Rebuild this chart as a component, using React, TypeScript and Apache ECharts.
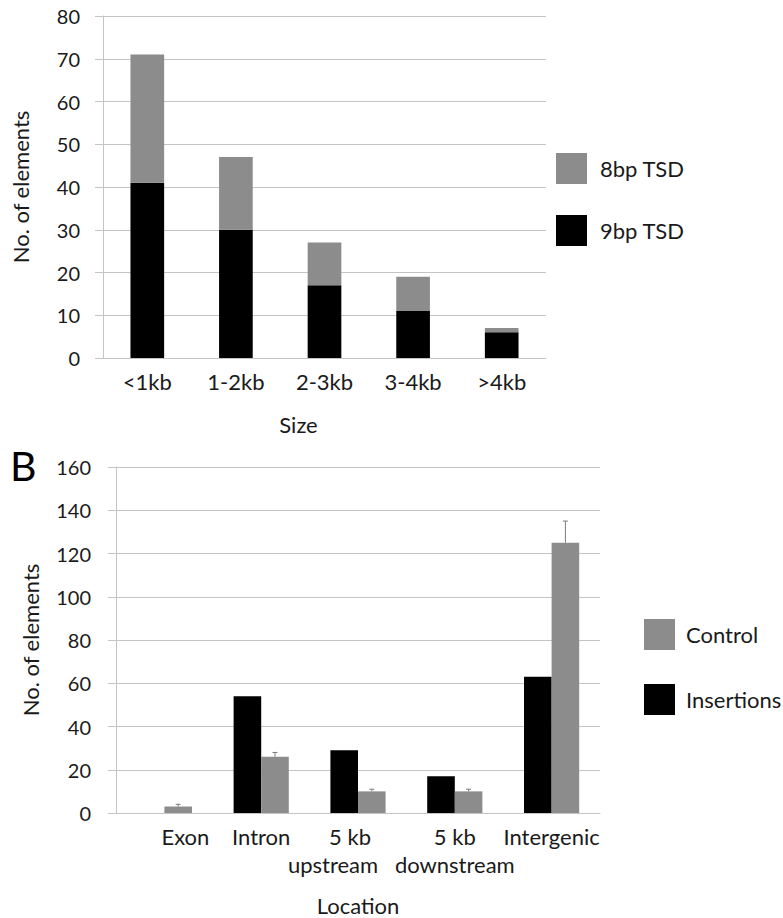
import React, { useEffect, useRef } from "react";
import * as echarts from "echarts";

const sizeCats = ["<1kb", "1-2kb", "2-3kb", "3-4kb", ">4kb"];
const tsd9 = [41, 30, 17, 11, 6];
const tsd8 = [30, 17, 10, 8, 1];
const sizeTicksMax = 80;

const locCats = ["Exon", "Intron", "5 kb\nupstream", "5 kb\ndownstream", "Intergenic"];
const insertions = [0, 54, 29, 17, 63];
const control = [3, 26, 10, 10, 125];
const controlErr = [1, 2, 1, 1, 10];
const locTicksMax = 160;

const FONT = "Lato";
const GRID = "#c4c4c4";
const GRAY = "#8c8c8c";
const TXT = "#1a1a1a";
const FS = 22;

export default function App() {
  const ref = useRef<HTMLDivElement>(null);
  useEffect(() => {
    if (!ref.current) return;
    const chart = echarts.init(ref.current, undefined, { renderer: "svg" });
    const yAxisCommon = (max: number, interval: number, gap: number, lm: number) => ({
      type: "value",
      min: 0,
      max,
      interval,
      name: "No. of elements",
      nameLocation: "middle",
      nameGap: gap,
      nameTextStyle: { fontFamily: FONT, fontSize: FS, color: TXT },
      axisLine: { show: true, lineStyle: { color: GRID, width: 1 } },
      axisTick: { show: true, length: 8, lineStyle: { color: GRID } },
      axisLabel: { fontFamily: FONT, fontSize: 20, color: TXT, margin: lm },
      splitLine: { show: true, lineStyle: { color: GRID, width: 1 } },
    });
    const richBase = { fontFamily: FONT, fontSize: FS, color: TXT, lineHeight: 28 };
    const option: any = {
      animation: false,
      backgroundColor: "#ffffff",
      textStyle: { fontFamily: FONT },
      grid: [
        { left: 103, top: 16, right: 237, bottom: 560 },
        { left: 116, top: 467, right: 183, bottom: 105 },
      ],
      legend: [
        {
          orient: "vertical",
          left: 551,
          top: 148,
          itemWidth: 31,
          itemHeight: 31,
          itemGap: 31,
          icon: "rect",
          data: ["8bp TSD", "9bp TSD"],
          textStyle: { fontFamily: FONT, fontSize: FS, color: TXT, padding: [0, 0, 0, 8] },
        },
        {
          orient: "vertical",
          left: 639,
          top: 614,
          itemWidth: 31,
          itemHeight: 31,
          itemGap: 34,
          icon: "rect",
          data: ["Control", "Insertions"],
          textStyle: { fontFamily: FONT, fontSize: FS, color: TXT, padding: [0, 0, 0, 6] },
        },
      ],
      graphic: [
        {
          type: "text",
          left: 10,
          top: 445,
          style: { text: "B", fontFamily: FONT, fontSize: 41, fill: "#000" },
        },
      ],
      xAxis: [
        {
          type: "category",
          gridIndex: 0,
          data: sizeCats,
          name: "Size",
          nameLocation: "middle",
          nameGap: 55,
          nameTextStyle: { fontFamily: FONT, fontSize: FS, color: TXT, padding: [0, 52, 0, 0] },
          axisLine: { lineStyle: { color: GRID } },
          axisTick: { show: false },
          axisLabel: { fontFamily: FONT, fontSize: FS, color: TXT, margin: 12 },
        },
        {
          type: "category",
          gridIndex: 1,
          data: locCats,
          name: "Location",
          nameLocation: "middle",
          nameGap: 81,
          nameTextStyle: { fontFamily: FONT, fontSize: FS, color: TXT },
          axisLine: { lineStyle: { color: GRID } },
          axisTick: { show: false },
          axisLabel: {
            fontFamily: FONT,
            fontSize: FS,
            color: TXT,
            margin: 9,
            lineHeight: 28,
            interval: 0,
            formatter: (v: string) => {
              if (v === locCats[0]) return `{ex|${v}}`;
              if (v === locCats[2]) {
                const [a, b] = v.split("\n");
                return `{u1|${a}}\n{u2|${b}}`;
              }
              return v;
            },
            rich: {
              ex: { ...richBase, padding: [0, 0, 0, 42] },
              u1: { ...richBase, padding: [0, 16, 0, 0] },
              u2: { ...richBase, padding: [0, 50, 0, 0] },
            },
          },
        },
      ],
      yAxis: [
        { ...yAxisCommon(sizeTicksMax, 10, 72, 23), gridIndex: 0 },
        { ...yAxisCommon(locTicksMax, 20, 75, 25), gridIndex: 1 },
      ],
      series: [
        {
          name: "9bp TSD",
          type: "bar",
          stack: "tsd",
          xAxisIndex: 0,
          yAxisIndex: 0,
          data: tsd9,
          barWidth: "38%",
          itemStyle: { color: "#000000" },
        },
        {
          name: "8bp TSD",
          type: "bar",
          stack: "tsd",
          xAxisIndex: 0,
          yAxisIndex: 0,
          data: tsd8,
          barWidth: "38%",
          itemStyle: { color: GRAY },
        },
        {
          name: "Insertions",
          type: "bar",
          xAxisIndex: 1,
          yAxisIndex: 1,
          data: insertions,
          barGap: "0%",
          barCategoryGap: "43%",
          itemStyle: { color: "#000000" },
        },
        {
          name: "Control",
          type: "bar",
          xAxisIndex: 1,
          yAxisIndex: 1,
          data: control,
          barGap: "0%",
          barCategoryGap: "43%",
          itemStyle: { color: GRAY },
        },
        {
          name: "err",
          type: "custom",
          xAxisIndex: 1,
          yAxisIndex: 1,
          z: 5,
          data: control.map((v, i) => [i, v, controlErr[i]]),
          encode: { x: 0, y: 1 },
          renderItem: (params: any, api: any) => {
            const i = api.value(0);
            const v = api.value(1);
            const e = api.value(2);
            const band = api.size([1, 0])[0];
            const base = api.coord([i, v]);
            const top = api.coord([i, v + e]);
            const x = base[0] + band * 0.1425;
            const st = { stroke: "#7a7a7a", lineWidth: 1 };
            return {
              type: "group",
              children: [
                { type: "line", shape: { x1: x, y1: base[1], x2: x, y2: top[1] }, style: st },
                { type: "line", shape: { x1: x - 2.5, y1: top[1], x2: x + 2.5, y2: top[1] }, style: st },
              ],
            };
          },
        },
      ],
    };
    chart.setOption(option);
    return () => chart.dispose();
  }, []);
  return (
    <div
      ref={ref}
      style={{ position: "absolute", left: 0, top: 0, width: 783, height: 918, background: "#fff" }}
    />
  );
}
